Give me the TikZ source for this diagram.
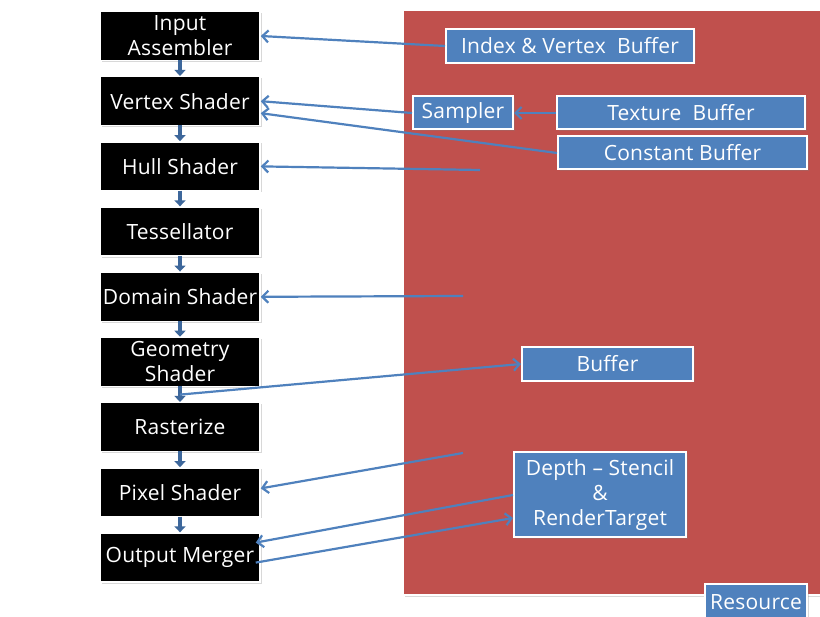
\documentclass[tikz,border=0pt]{standalone}
\usepackage{fontspec}
\setmainfont[LetterSpace=1]{Open Sans}
\usetikzlibrary{arrows.meta, shadows, calc}
\definecolor{resred}{HTML}{C0504D}
\definecolor{resblue}{HTML}{4F81BD}
\definecolor{flowblue}{HTML}{3D679B}

\begin{document}
\begin{tikzpicture}[x=1pt, y=-1pt,
        boxshadow/.style={drop shadow={shadow xshift=1.5pt, shadow yshift=-1.5pt, opacity=0.3}},
        stage/.style={draw=white, line width=1.5pt, fill=black, text=white, minimum width=160pt, minimum height=49pt, align=center, inner sep=0pt, font=\fontsize{21}{25}\selectfont, boxshadow},
        res/.style={draw=white, line width=2pt, fill=resblue, text=white, inner sep=0pt, align=center, font=\fontsize{21}{25}\selectfont, boxshadow},
        flow/.style={draw=flowblue, line width=4.5pt, shorten <=-1pt, -{Triangle[length=6pt, width=11pt]}},
        link/.style={draw=resblue, line width=2.2pt, -{Straight Barb[length=6pt, width=12pt]}}]
    \clip (0,0) rectangle (820,617);
    \fill[white] (0,0) rectangle (820,617);
    \draw[white, line width=2pt, fill=resred, boxshadow] (403,10) rectangle (840,595);

    \foreach \n/\t [count=\i from 0] in {ia/{Input\\Assembler}, vs/Vertex Shader, hs/Hull Shader, ts/Tessellator, ds/Domain Shader, gs/{Geometry\\Shader}, rs/Rasterize, ps/Pixel Shader, om/Output Merger}
        \node[stage] (\n) at (180, {36+65.2*\i}) {\t};
    \foreach \a/\b in {ia/vs, vs/hs, hs/ts, ts/ds, ds/gs, rs/ps, ps/om}
        \draw[flow] (\a) -- (\b);
    \draw[flow] (gs) -- coordinate[pos=.5] (gsm) (rs);

    \node[res, minimum width=248pt, minimum height=34pt] (iv) at (570,46) {Index \& Vertex\ \ Buffer};
    \node[res, minimum width=100pt, minimum height=33pt] (sp) at (463,113) {Sampler};
    \node[res, minimum width=248pt, minimum height=33pt] (tb) at (681,113) {Texture\ \ Buffer};
    \node[res, minimum width=249pt, minimum height=33pt] (cb) at (682.5,153) {Constant Buffer};
    \node[res, minimum width=171pt, minimum height=34pt] (bf) at (607.5,364) {Buffer};
    \node[res, minimum width=172pt, minimum height=85pt] (dp) at (600,495) {Depth – Stencil\\\&\\RenderTarget};
    \node[res, minimum width=102pt, minimum height=36pt] (rc) at (756,602) {Resource};

    \coordinate (hsr) at (480,170);
    \coordinate (dsr) at (463,296);
    \coordinate (psr) at (463,453);

    \draw[link] (iv.west) -- (ia.east);
    \draw[link] (sp.west) -- (vs.east);
    \draw[link] (cb.west) -- ([yshift=-12pt]vs.east);
    \draw[link] (tb) -- (sp);
    \draw[link] (hsr) -- (hs.east);
    \draw[link] (dsr) -- (ds.east);
    \draw[link] (gsm) -- (bf.west);
    \draw[link] (psr) -- ([yshift=4pt]ps.east);
    \draw[link] (dp.west) -- ([xshift=-5pt,yshift=15pt]om.east);
    \draw[link] ([xshift=-5pt,yshift=-5pt]om.east) -- ([yshift=-23pt]dp.west);
\end{tikzpicture}
\end{document}
